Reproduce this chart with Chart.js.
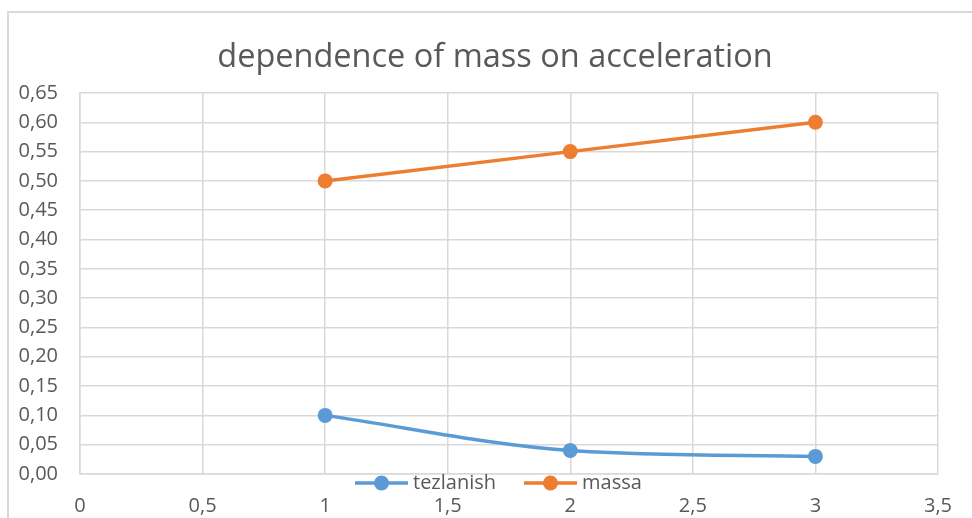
<!DOCTYPE html>
<html>
<head>
<meta charset="utf-8">
<script src="https://cdn.jsdelivr.net/npm/chart.js@4/dist/chart.umd.min.js"></script>
<style>
    html, body { margin: 0; padding: 0; background: #fff; overflow: hidden; }
    #wrap { position: relative; width: 972px; height: 518px; }
    #frame {
        position: absolute; left: 7px; top: 11px; width: 1100px; height: 700px;
        border-top: 2px solid #d9d9d9; border-left: 2px solid #d9d9d9; pointer-events: none;
    }
</style>
</head>
<body>
<div id="wrap">
    <canvas id="chart" width="972" height="518"></canvas>
    <div id="frame"></div>
</div>
<script>
;
(function(window, document) {
    'use strict';

    // values
    let titleText = 'dependence of mass on acceleration';
    let seriesNames = ['tezlanish', 'massa'];
    let xValues = [1, 2, 3];
    let tezlanish = [0.10, 0.04, 0.03];
    let massa = [0.50, 0.55, 0.60];
    let seriesColors = ['#5b9bd5', '#ed7d31'];

    let font = '"Open Sans", "Liberation Sans", sans-serif';
    let textColor = '#595959';
    let gridColor = '#d9d9d9';

    let toPoints = function(ys) {
        return xValues.map(function(x, i) { return { x: x, y: ys[i] }; });
    };

    let comma = function(v) {
        return String(v).replace('.', ',');
    };

    let makeSet = function(name, ys, color) {
        return {
            label: name,
            data: toPoints(ys),
            showLine: true,
            cubicInterpolationMode: 'monotone',
            borderColor: color,
            backgroundColor: color,
            borderWidth: 3.5,
            pointRadius: 7.5,
            pointHoverRadius: 7.5,
            pointBorderWidth: 0
        };
    };

    // legend drawn over the bottom of the plot, as in the reference
    let bottomLegend = {
        id: 'bottomLegend',
        afterDraw: function(chart) {
            let ctx = chart.ctx;
            let y = chart.chartArea.bottom + 9;
            let x = 355;
            ctx.save();
            ctx.font = '20px ' + font;
            ctx.textBaseline = 'middle';
            chart.data.datasets.forEach(function(ds) {
                ctx.strokeStyle = ds.borderColor;
                ctx.lineWidth = 3.5;
                ctx.beginPath();
                ctx.moveTo(x, y);
                ctx.lineTo(x + 53, y);
                ctx.stroke();
                ctx.fillStyle = ds.borderColor;
                ctx.beginPath();
                ctx.arc(x + 26.5, y, 7.5, 0, Math.PI * 2);
                ctx.fill();
                ctx.fillStyle = textColor;
                ctx.fillText(ds.label, x + 58, y);
                x += 58 + ctx.measureText(ds.label).width + 28;
            });
            ctx.restore();
        }
    };

    new Chart(document.getElementById('chart'), {
        type: 'scatter',
        data: {
            datasets: [
                makeSet(seriesNames[0], tezlanish, seriesColors[0]),
                makeSet(seriesNames[1], massa, seriesColors[1])
            ]
        },
        options: {
            responsive: false,
            animation: false,
            layout: { padding: { left: 18, right: 0, top: 0, bottom: 0 } },
            plugins: {
                legend: { display: false },
                tooltip: { enabled: false },
                title: {
                    display: true,
                    text: titleText,
                    color: textColor,
                    font: { family: font, size: 32.5, weight: 'normal' },
                    padding: { top: 38, bottom: 16 }
                }
            },
            scales: {
                x: {
                    type: 'linear',
                    min: 0,
                    max: 3.5,
                    ticks: {
                        stepSize: 0.5,
                        color: textColor,
                        font: { family: font, size: 20 },
                        padding: 20,
                        maxRotation: 0,
                        callback: function(v) { return comma(v); }
                    },
                    grid: { color: gridColor, lineWidth: 1.5, drawTicks: false },
                    border: { color: gridColor, width: 1.5 },
                    afterFit: function(scale) { scale.height = 44; }
                },
                y: {
                    min: 0,
                    max: 0.65,
                    ticks: {
                        stepSize: 0.05,
                        color: textColor,
                        font: { family: font, size: 20 },
                        padding: 22,
                        callback: function(v) { return comma(v.toFixed(2)); }
                    },
                    grid: { color: gridColor, lineWidth: 1.5, drawTicks: false },
                    border: { color: gridColor, width: 1.5 },
                    afterFit: function(scale) { scale.width = 62; }
                },
                // empty spacer on the right so the plot ends where the reference's does
                spacer: {
                    type: 'linear',
                    position: 'right',
                    ticks: { display: false },
                    grid: { display: false },
                    border: { display: false },
                    afterFit: function(scale) { scale.width = 32; }
                }
            }
        },
        plugins: [bottomLegend]
    });

})(window, document);
</script>
</body>
</html>
